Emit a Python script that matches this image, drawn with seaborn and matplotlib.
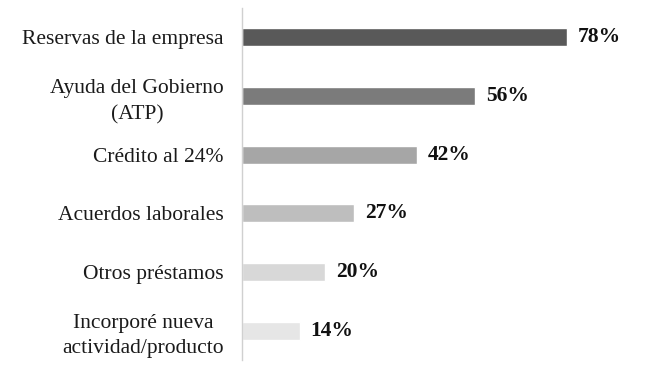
import matplotlib
matplotlib.use('Agg')
import matplotlib.pyplot as plt
import seaborn as sns
import pandas as pd

categories = ['Reservas de la empresa', 'Ayuda del Gobierno\n(ATP)', 'Crédito al 24%',
              'Acuerdos laborales', 'Otros préstamos', 'Incorporé nueva\nactividad/producto']
values = [78, 56, 42, 27, 20, 14]
value_labels = ['78%', '56%', '42%', '27%', '20%', '14%']
bar_colors = ['#595959', '#7b7b7b', '#a6a6a6', '#bebebe', '#d8d8d8', '#e6e6e6']

df = pd.DataFrame({'cat': categories, 'val': values})

sns.set_style('white')
plt.rcParams['font.family'] = ['Liberation Serif', 'DejaVu Serif']

fig = plt.figure(figsize=(6.5, 3.75), dpi=100)
ax = fig.add_axes([242 / 650, 0.04, 375 / 650, 0.9387])

sns.barplot(data=df, x='val', y='cat', hue='cat', palette=bar_colors, orient='h',
            width=0.31, legend=False, saturation=1, ax=ax)

for i, (v, lab) in enumerate(zip(values, value_labels)):
    ax.text(v + 2.5, i, lab, va='center', ha='left', fontsize=15.5, fontweight='bold', color='#111111')

ax.set_xlim(0, 90)
ax.set_ylim(5.5, -0.5)
ax.set_xlabel('')
ax.set_ylabel('')
ax.set_xticks([])
for s in ['top', 'right', 'bottom']:
    ax.spines[s].set_visible(False)
ax.spines['left'].set_color('#d0d0d0')
ax.spines['left'].set_linewidth(1)
ax.tick_params(axis='y', length=0, pad=13, labelsize=15.5, labelcolor='#1a1a1a')
for t in ax.get_yticklabels():
    t.set_multialignment('center')
    t.set_linespacing(1.45)

fig.savefig('out.png', dpi=100)
